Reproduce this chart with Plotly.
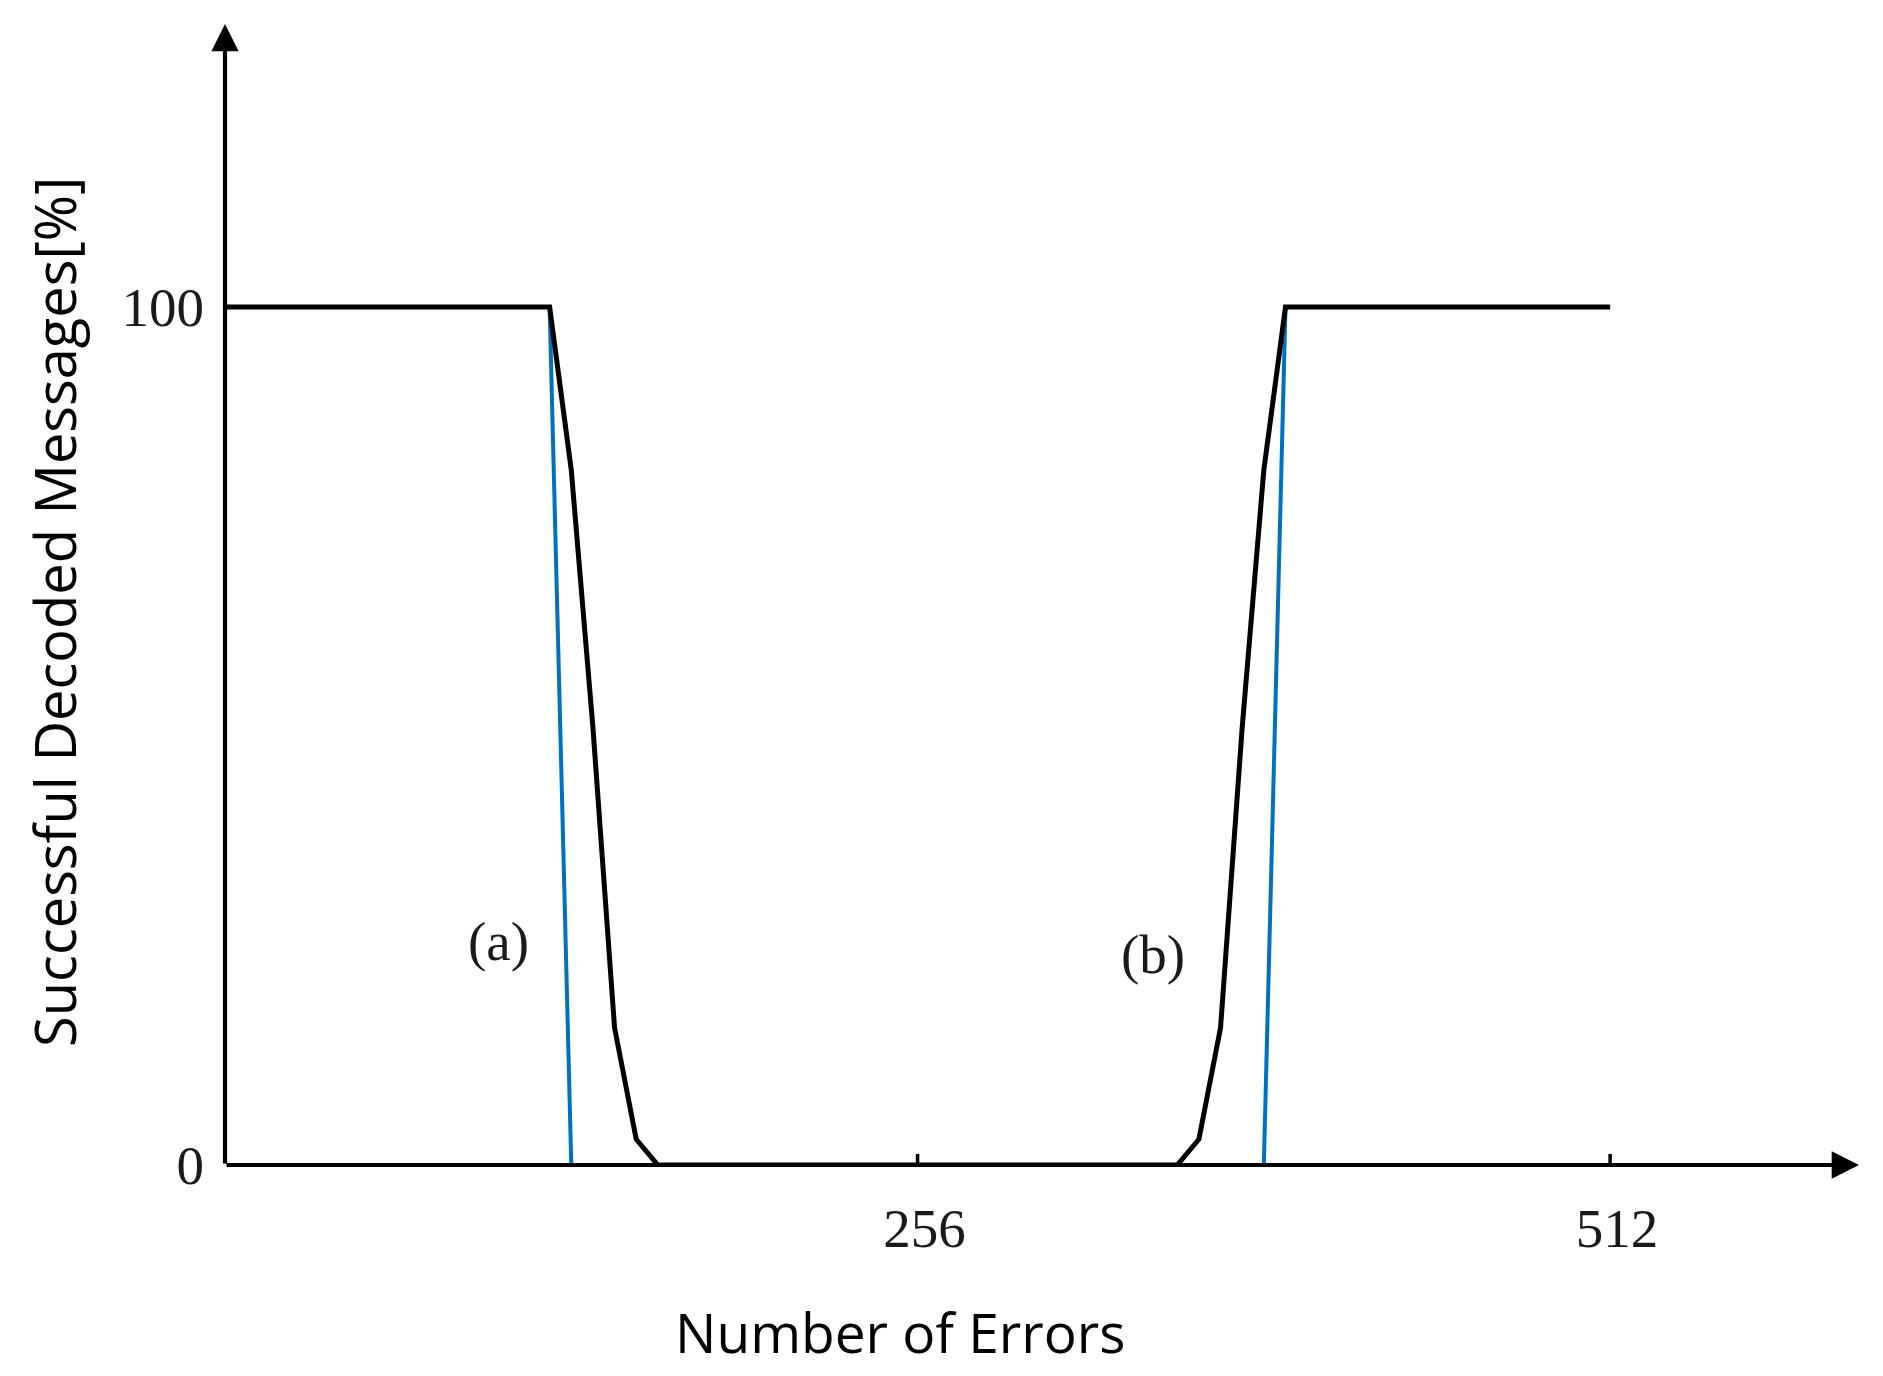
import plotly.graph_objects as go

# Data
x_black = [0, 120, 128, 136, 144, 152, 160, 352, 360, 368, 376, 384, 392, 512]
y_black = [100, 100, 81, 51, 16, 3, 0, 0, 3, 16, 51, 81, 100, 100]

x_blue = [0, 120, 128, 384, 392, 512]
y_blue = [100, 100, 0, 0, 100, 100]

x_ticks = [256, 512]
x_tick_labels = ["256", "512"]
y_ticks = [0, 100]
y_tick_labels = ["0", "100"]

curve_labels = ["(a)", "(b)"]
curve_label_x = [101, 343]
curve_label_y = [26, 24.5]

x_axis_end = 604
y_axis_end = 133

SERIF = "Liberation Serif, DejaVu Serif, serif"
SANS = "Open Sans, Noto Sans, sans-serif"

fig = go.Figure()
fig.add_trace(go.Scatter(x=x_blue, y=y_blue, mode="lines",
                         line=dict(color="#0072BD", width=4), showlegend=False))
fig.add_trace(go.Scatter(x=x_black, y=y_black, mode="lines",
                         line=dict(color="black", width=5), showlegend=False))

# axis arrows
fig.add_annotation(x=x_axis_end, y=0, ax=0, ay=0, xref="x", yref="y", axref="x", ayref="y",
                   text="", showarrow=True, arrowhead=2, arrowsize=1.3, arrowwidth=4.2,
                   arrowcolor="black", standoff=0)
fig.add_annotation(x=0, y=y_axis_end, ax=0, ay=0, xref="x", yref="y", axref="x", ayref="y",
                   text="", showarrow=True, arrowhead=2, arrowsize=1.3, arrowwidth=4.2,
                   arrowcolor="black", standoff=0)

# tick marks crossing the x axis
for xv in x_ticks:
    fig.add_shape(type="line", xref="x", yref="y", x0=xv, x1=xv, ysizemode="pixel",
                  yanchor=0, y0=-11, y1=11, line=dict(color="black", width=3.5))

for t, xv, yv in zip(curve_labels, curve_label_x, curve_label_y):
    fig.add_annotation(x=xv, y=yv, xref="x", yref="y", text=t, showarrow=False,
                       font=dict(family=SERIF, size=55, color="#1a1a1a"))

# axis titles
fig.add_annotation(x=0.4137, y=0, xref="paper", yref="paper", yshift=-166,
                   xanchor="center", yanchor="middle", text="Number of Errors",
                   showarrow=False, font=dict(family=SANS, size=55, color="black"))
fig.add_annotation(x=0, y=0.4847, xref="paper", yref="paper", xshift=-171,
                   xanchor="center", yanchor="middle", textangle=-90,
                   text="Successful Decoded Messages[%]",
                   showarrow=False, font=dict(family=SANS, size=56, color="black"))

fig.update_layout(
    width=1883, height=1376,
    margin=dict(l=217, r=32, t=16, b=219),
    plot_bgcolor="white", paper_bgcolor="white",
    xaxis=dict(range=[0, x_axis_end], showgrid=False, zeroline=False, showline=False,
               tickvals=x_ticks, ticktext=x_tick_labels, ticks="",
               ticklabelstandoff=26, ticklabelshift=7,
               tickfont=dict(family=SERIF, size=55, color="#1a1a1a")),
    yaxis=dict(range=[0, y_axis_end], showgrid=False, zeroline=False, showline=False,
               tickvals=y_ticks, ticktext=y_tick_labels, ticks="",
               ticklabelstandoff=20,
               tickfont=dict(family=SERIF, size=55, color="#1a1a1a")),
)

fig.write_html("out.html")
